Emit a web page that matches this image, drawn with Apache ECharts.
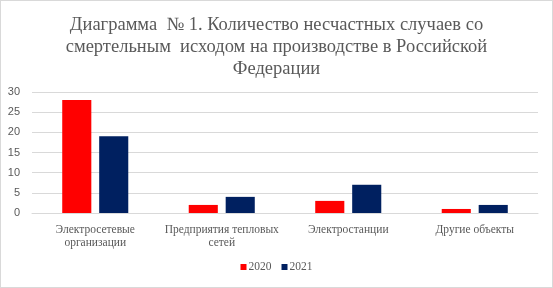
<!DOCTYPE html>
<html><head><meta charset="utf-8">
<script src="https://cdn.jsdelivr.net/npm/echarts@6/dist/echarts.min.js"></script>
<style>html,body{margin:0;padding:0;background:#fff}#c{width:553px;height:288px;box-sizing:border-box;border:1px solid #d9d9d9}</style>
</head><body><div id="c"></div>
<script>
const categories = ['Электросетевые\nорганизации', 'Предприятия тепловых\nсетей', 'Электростанции', 'Другие объекты'];
const series2020 = [28, 2, 3, 1];
const series2021 = [19, 4, 7, 2];
const yTicks = [0, 5, 10, 15, 20, 25, 30];
const titleText = 'Диаграмма  № 1. Количество несчастных случаев со\nсмертельным  исходом на производстве в Российской\nФедерации';

const chart = echarts.init(document.getElementById('c'), null, {renderer: 'canvas'});
const serif = 'Liberation Serif';
chart.setOption({
  animation: false,
  title: {
    text: titleText, left: 'center', top: 8,
    textStyle: {fontFamily: serif, fontSize: 18.5, fontWeight: 'normal', color: '#595959', lineHeight: 22}
  },
  legend: {
    bottom: 9, left: 'center', itemWidth: 6, itemHeight: 6, itemGap: 10, icon: 'rect',
    textStyle: {fontFamily: serif, fontSize: 11.5, color: '#595959', padding: [0, 0, 0, -3]},
    data: ['2020', '2021']
  },
  grid: {left: 31, right: 14, top: 91, bottom: 74, containLabel: false},
  xAxis: {
    type: 'category', data: categories,
    axisLine: {lineStyle: {color: '#d9d9d9'}}, axisTick: {show: false},
    axisLabel: {fontFamily: serif, fontSize: 11.5, color: '#595959', lineHeight: 13, margin: 10, interval: 0}
  },
  yAxis: {
    type: 'value', min: yTicks[0], max: yTicks[yTicks.length - 1], interval: 5,
    axisLine: {show: false}, axisTick: {show: false},
    axisLabel: {fontFamily: 'Liberation Sans', fontSize: 11, color: '#595959', margin: 12},
    splitLine: {lineStyle: {color: '#d9d9d9'}}
  },
  series: [
    {name: '2020', type: 'bar', data: series2020, barWidth: '23%', barGap: '27%', itemStyle: {color: '#ff0000'}},
    {name: '2021', type: 'bar', data: series2021, barWidth: '23%', itemStyle: {color: '#002060'}}
  ]
});
</script></body></html>
